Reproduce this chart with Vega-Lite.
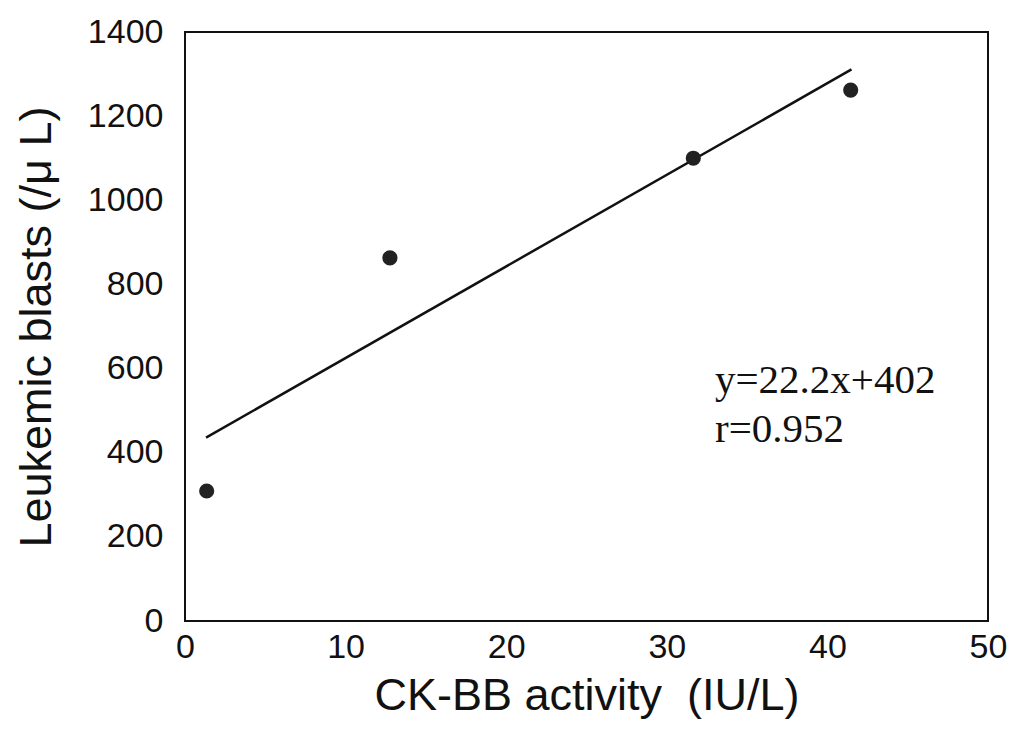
{
  "$schema": "https://vega.github.io/schema/vega-lite/v6.json",
  "autosize": {"type": "none"},
  "width": 803,
  "height": 589,
  "padding": {"left": 185, "top": 32, "right": 29, "bottom": 114},
  "background": "white",
  "config": {
    "view": {"stroke": "#111", "strokeWidth": 2},
    "axis": {"grid": false, "ticks": false, "domain": false, "labelColor": "#111", "titleColor": "#111", "labelFont": "Liberation Sans", "titleFont": "Liberation Sans", "labelFontSize": 34, "titleFontSize": 45, "titleFontWeight": "normal", "labelFlush": false, "format": "d"}
  },
  "datasets": {
    "pts": [
      {"ck": 1.35, "blasts": 309},
      {"ck": 12.76, "blasts": 863},
      {"ck": 31.65, "blasts": 1100},
      {"ck": 41.45, "blasts": 1262}
    ],
    "fit": [
      {"ck": 1.31, "blasts": 436},
      {"ck": 41.5, "blasts": 1311}
    ],
    "ann": [
      {"ck": 33.0, "blasts": 543, "label": "y=22.2x+402"},
      {"ck": 33.0, "blasts": 425, "label": "r=0.952"}
    ]
  },
  "layer": [
    {
      "data": {"name": "fit"},
      "mark": {"type": "line", "color": "#111", "strokeWidth": 2.5},
      "encoding": {
        "x": {"field": "ck", "type": "quantitative", "scale": {"domain": [0, 50], "nice": false}, "axis": {"values": [0, 10, 20, 30, 40, 50], "title": "CK-BB activity\u00a0\u00a0(IU/L)", "labelPadding": 9, "titlePadding": 9}},
        "y": {"field": "blasts", "type": "quantitative", "scale": {"domain": [0, 1400], "nice": false}, "axis": {"values": [0, 200, 400, 600, 800, 1000, 1200, 1400], "title": "Leukemic blasts (/μ L)", "labelPadding": 22, "titlePadding": 28}}
      }
    },
    {
      "data": {"name": "pts"},
      "mark": {"type": "circle", "color": "#222", "opacity": 1, "size": 230},
      "encoding": {
        "x": {"field": "ck", "type": "quantitative"},
        "y": {"field": "blasts", "type": "quantitative"}
      }
    },
    {
      "data": {"name": "ann"},
      "mark": {"type": "text", "align": "left", "baseline": "alphabetic", "font": "Liberation Serif", "fontSize": 41, "color": "#111"},
      "encoding": {
        "x": {"field": "ck", "type": "quantitative"},
        "y": {"field": "blasts", "type": "quantitative"},
        "text": {"field": "label"}
      }
    }
  ]
}
